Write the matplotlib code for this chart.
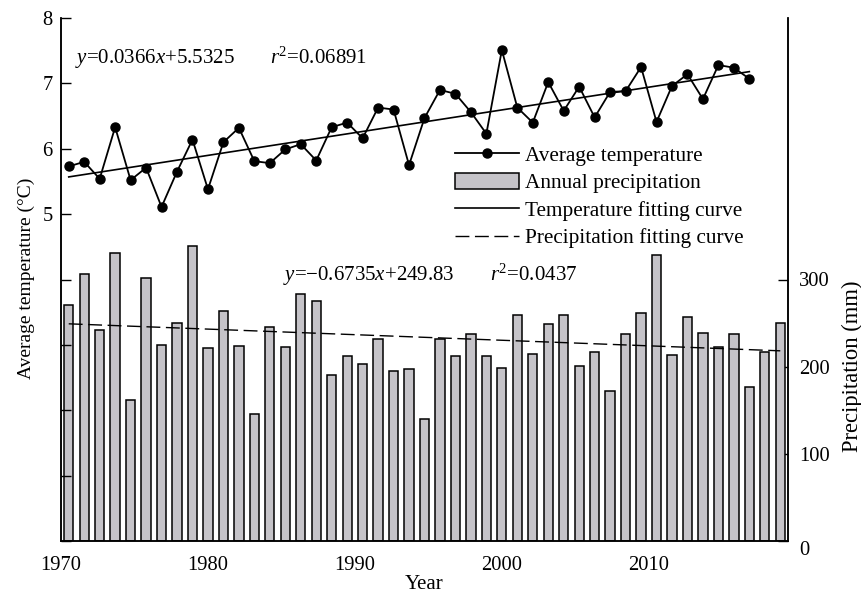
import numpy as np
import matplotlib
matplotlib.use("Agg")
import matplotlib.pyplot as plt
from matplotlib.lines import Line2D
from matplotlib.patches import Patch

plt.rcParams["font.family"] = ["Liberation Serif", "DejaVu Serif"]
plt.rcParams["mathtext.fontset"] = "custom"
plt.rcParams["mathtext.rm"] = "Liberation Serif"
plt.rcParams["mathtext.it"] = "Liberation Serif:italic"

# annual series
years_precip = np.arange(1970, 2017)
precip = [271, 306, 242, 330, 162, 302, 225, 250, 339, 221,
          264, 224, 146, 246, 222, 283, 275, 190, 212, 203,
          232, 195, 197, 140, 232, 212, 238, 212, 198, 259,
          214, 249, 259, 201, 217, 172, 238, 262, 328, 213,
          257, 239, 223, 238, 177, 217, 250]

years_temp = np.arange(1970, 2015)
temp = [5.73, 5.80, 5.54, 6.33, 5.52, 5.71, 5.11, 5.65, 6.14, 5.38,
        6.10, 6.32, 5.81, 5.78, 5.99, 6.07, 5.82, 6.33, 6.40, 6.16,
        6.63, 6.60, 5.75, 6.47, 6.90, 6.84, 6.56, 6.23, 7.51, 6.63,
        6.40, 7.02, 6.58, 6.95, 6.48, 6.87, 6.88, 7.25, 6.41, 6.96,
        7.14, 6.76, 7.28, 7.24, 7.07]

# fitted trends as printed on the chart
temp_slope, temp_icpt = 0.0366, 5.5325
prec_slope, prec_icpt = -0.6735, 249.83

tick_years = [1970, 1980, 1990, 2000, 2010]

bar_col = "#c5c3c8"
dash = (0, (10, 4))
fs = 15
tfs = 14.8

fig = plt.figure(figsize=(8.62, 5.94), dpi=100)
ax = fig.add_axes([61/862, 1-541/594, 727/862, 523/594])
ax2 = ax.twinx()

# precipitation on the right axis, drawn underneath
ax2.bar(years_precip, precip, width=0.6, color=bar_col,
        edgecolor="black", linewidth=1.1, zorder=2)
n_p = np.arange(1, len(precip) + 1)
ax2.plot(years_precip, prec_slope*n_p + prec_icpt, color="black",
         lw=1.0, ls=dash, zorder=3)
ax2.set_ylim(0, 600)
ax2.set_yticks([0, 100, 200, 300])
ax2.tick_params(axis="y", direction="in", length=7, width=1, pad=8,
                labelsize=tfs)
ax2.get_yticklabels()[0].set_va("top")
ax2.set_ylabel("Precipitation (mm)", fontsize=16.3)
ax2.yaxis.set_label_coords(1.074, 0.335)

# temperature on the left axis, on top
ax.set_zorder(ax2.get_zorder() + 1)
ax.patch.set_visible(False)
ax.plot(years_temp, temp, color="black", lw=1.3, marker="o", ms=6.5,
        zorder=4)
n_t = np.arange(1, len(temp) + 1)
ax.plot(years_temp, temp_slope*n_t + temp_icpt, color="black", lw=1.2,
        zorder=3)
ax.set_ylim(0, 8)
ax.set_yticks(range(0, 9))
ax.set_yticklabels(["", "", "", "", "", "5", "6", "7", "8"])
ax.tick_params(axis="y", direction="in", length=7, width=1, pad=6,
               labelsize=tfs)
ax.set_ylabel("Average temperature (°C)", fontsize=14)
ax.yaxis.set_label_coords(-0.036, 0.503)

# year labels sit on a slightly compressed scale
xmin, xmax = years_precip[0] - 0.5, years_precip[-1] + 0.5
ax.set_xlim(xmin, xmax)
ax2.set_xlim(xmin, xmax)
scale = (xmax - xmin) / 49.5
ax.set_xticks([xmin + (t - tick_years[0])*scale for t in tick_years])
ax.set_xticklabels([str(t) for t in tick_years])
ax.tick_params(axis="x", length=0, pad=11, labelsize=tfs)
ax.set_xlabel("Year", fontsize=fs, labelpad=0)

for a in (ax, ax2):
    a.spines["top"].set_visible(False)
    for s in ("left", "right", "bottom"):
        a.spines[s].set_linewidth(1.1)

ax.text(0.019, 0.9235, r"$y$=0.0366$x$+5.5325", transform=ax.transAxes,
        fontsize=fs, va="center")
ax.text(0.2875, 0.9235, r"$r^2$=0.06891", transform=ax.transAxes,
        fontsize=fs, va="center")
ax.text(0.3054, 0.5086, "$y$=\u22120.6735$x$+249.83", transform=ax.transAxes,
        fontsize=fs, va="center")
ax.text(0.590, 0.5086, r"$r^2$=0.0437", transform=ax.transAxes,
        fontsize=fs, va="center")

handles = [
    Line2D([], [], color="black", lw=1.3, marker="o", ms=6.5),
    Patch(facecolor=bar_col, edgecolor="black", linewidth=1.1),
    Line2D([], [], color="black", lw=1.2),
    Line2D([], [], color="black", lw=1.0, ls=dash),
]
labels = ["Average temperature", "Annual precipitation",
          "Temperature fitting curve", "Precipitation fitting curve"]
ax.legend(handles, labels, loc="center left", bbox_to_anchor=(0.542, 0.658),
          frameon=False, fontsize=15.3, handlelength=3.0, handleheight=0.8,
          handletextpad=0.3, labelspacing=0.33, borderpad=0, borderaxespad=0)

fig.savefig("out.png", dpi=100)
